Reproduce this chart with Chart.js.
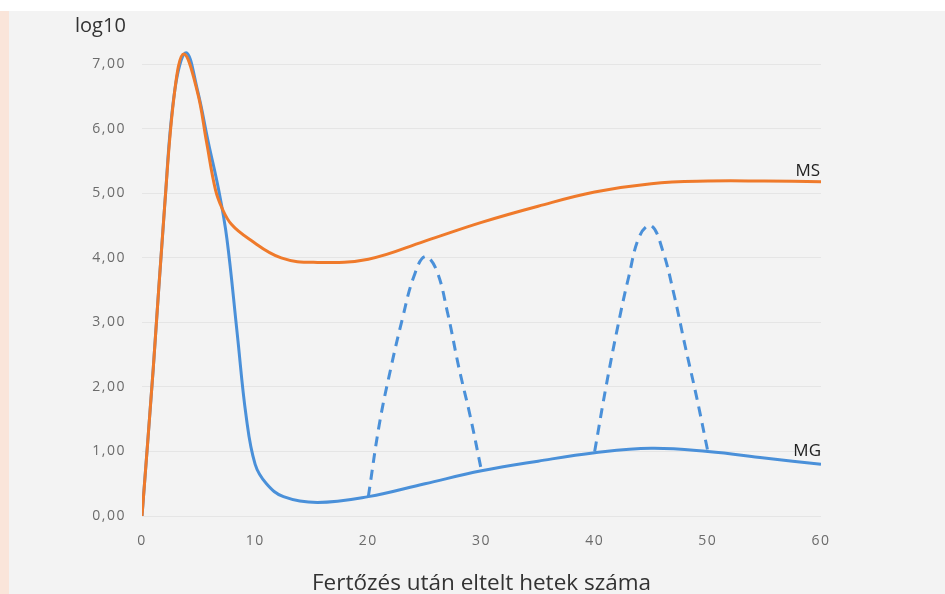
<!DOCTYPE html>
<html><head><meta charset="utf-8">
<script src="https://cdn.jsdelivr.net/npm/chart.js@4/dist/chart.umd.min.js"></script>
<style>html,body{margin:0;padding:0;background:#f3f3f3;overflow:hidden}#wrap{width:945px;height:594px;position:relative}</style>
</head><body><div id="wrap"><canvas id="c" width="945" height="594"></canvas></div>
<script>
const weekTicks = [0, 10, 20, 30, 40, 50, 60];
const logTicks = [0, 1, 2, 3, 4, 5, 6, 7];
const yTitle = 'log10';
const xTitle = 'Fertőzés után eltelt hetek száma';
const seriesNames = ['MS', 'MG'];

const msWeeks  = [0, 1, 2, 2.9, 3.7, 4.9, 5.7, 6.5, 7.1, 7.9, 9.4, 12.3, 15.5, 20, 25, 30, 35, 40, 45, 50, 55, 60];
const msValues = [0, 2.3, 4.8, 6.6, 7.16, 6.57, 5.8, 5.05, 4.76, 4.52, 4.3, 4.0, 3.93, 3.98, 4.26, 4.55, 4.8, 5.02, 5.15, 5.19, 5.19, 5.18];

const mgWeeks  = [0, 1, 2, 2.9, 3.9, 4.9, 5.85, 6.8, 7.5, 8.4, 9.2, 10, 11, 12.5, 15.5, 20, 25, 30, 35, 40, 45, 50, 55, 60];
const mgValues = [0, 2.3, 4.8, 6.6, 7.18, 6.6, 5.8, 5.03, 4.3, 2.85, 1.55, 0.8, 0.5, 0.3, 0.21, 0.3, 0.5, 0.7, 0.85, 0.98, 1.05, 1.0, 0.9, 0.8];

const bump1Weeks  = [20, 21, 22, 23, 24, 25, 26, 27, 28, 29, 30];
const bump1Values = [0.3, 1.45, 2.3, 3.05, 3.7, 4.02, 3.82, 3.15, 2.3, 1.55, 0.7];

const bump2Weeks  = [40, 41, 42, 43, 44, 45, 46, 47, 48, 49, 50];
const bump2Values = [1.0, 2.0, 2.9, 3.7, 4.35, 4.5, 4.12, 3.44, 2.63, 1.85, 1.0];

const ORANGE = '#ef7a2b';
const BLUE = '#4a90d9';

const zip = (xs, ys) => xs.map((x, i) => ({x: x, y: ys[i]}));

const bgPlugin = {
  id: 'bg',
  beforeDraw(chart) {
    const ctx = chart.ctx;
    ctx.save();
    ctx.fillStyle = '#f3f3f3';
    ctx.fillRect(0, 0, chart.width, chart.height);
    ctx.fillStyle = '#ffffff';
    ctx.fillRect(0, 0, chart.width, 11);
    ctx.fillStyle = '#fae5da';
    ctx.fillRect(0, 11, 9, chart.height - 11);
    ctx.restore();
    ctx.letterSpacing = '1.5px';
  },
  afterDraw(chart) {
    const ctx = chart.ctx;
    const xs = chart.scales.x, ys = chart.scales.y;
    ctx.save();
    ctx.letterSpacing = '0px';
    ctx.fillStyle = '#333333';
    ctx.textBaseline = 'alphabetic';
    ctx.font = '20px "Open Sans"';
    ctx.textAlign = 'left';
    ctx.fillText(yTitle, 75, 31.5);
    ctx.font = '22.5px "Open Sans"';
    ctx.textAlign = 'center';
    ctx.fillText(xTitle, (xs.left + xs.right) / 2, 590);
    ctx.fillStyle = '#222222';
    ctx.font = '17px "Open Sans"';
    ctx.textAlign = 'right';
    const msX = xs.getPixelForValue(msWeeks[msWeeks.length - 1]);
    const msY = ys.getPixelForValue(msValues[msValues.length - 1]);
    ctx.fillText(seriesNames[0], msX - 1, msY - 6);
    const mgX = xs.getPixelForValue(mgWeeks[mgWeeks.length - 1]);
    const mgY = ys.getPixelForValue(mgValues[mgValues.length - 1]);
    ctx.fillText(seriesNames[1], mgX, mgY - 8);
    ctx.restore();
  }
};

new Chart(document.getElementById('c'), {
  type: 'line',
  data: {
    datasets: [
      {label: 'MS', data: zip(msWeeks, msValues), borderColor: ORANGE, borderWidth: 3},
      {label: 'MG', data: zip(mgWeeks, mgValues), borderColor: BLUE, borderWidth: 3},
      {label: 'MG-1', data: zip(bump1Weeks, bump1Values), borderColor: BLUE, borderWidth: 3, borderDash: [10, 7]},
      {label: 'MG-2', data: zip(bump2Weeks, bump2Values), borderColor: BLUE, borderWidth: 3, borderDash: [10, 7]}
    ]
  },
  options: {
    responsive: false,
    animation: false,
    devicePixelRatio: 1,
    layout: {padding: {top: 32, right: 124, left: 0, bottom: 0}},
    plugins: {legend: {display: false}, tooltip: {enabled: false}},
    elements: {
      point: {radius: 0, hoverRadius: 0},
      line: {tension: 0.4, fill: false, borderCapStyle: 'butt'}
    },
    scales: {
      x: {
        type: 'linear', min: 0, max: 60,
        afterBuildTicks: s => { s.ticks = weekTicks.map(v => ({value: v})); },
        afterFit: s => { s.height = 78; },
        grid: {display: false, drawTicks: false},
        border: {display: false},
        ticks: {color: '#6b6b6b', font: {family: 'Open Sans', size: 14}, padding: 17, maxRotation: 0}
      },
      y: {
        type: 'linear', min: 0, max: 7.5,
        afterBuildTicks: s => { s.ticks = logTicks.map(v => ({value: v})); },
        afterFit: s => { s.width = 142; },
        grid: {color: 'rgba(0,0,0,0.055)', drawTicks: false, lineWidth: 1},
        border: {display: false},
        ticks: {color: '#6b6b6b', font: {family: 'Open Sans', size: 14}, padding: 16,
          callback: v => v.toFixed(2).replace('.', ',')}
      }
    }
  },
  plugins: [bgPlugin]
});
</script>
</body></html>
